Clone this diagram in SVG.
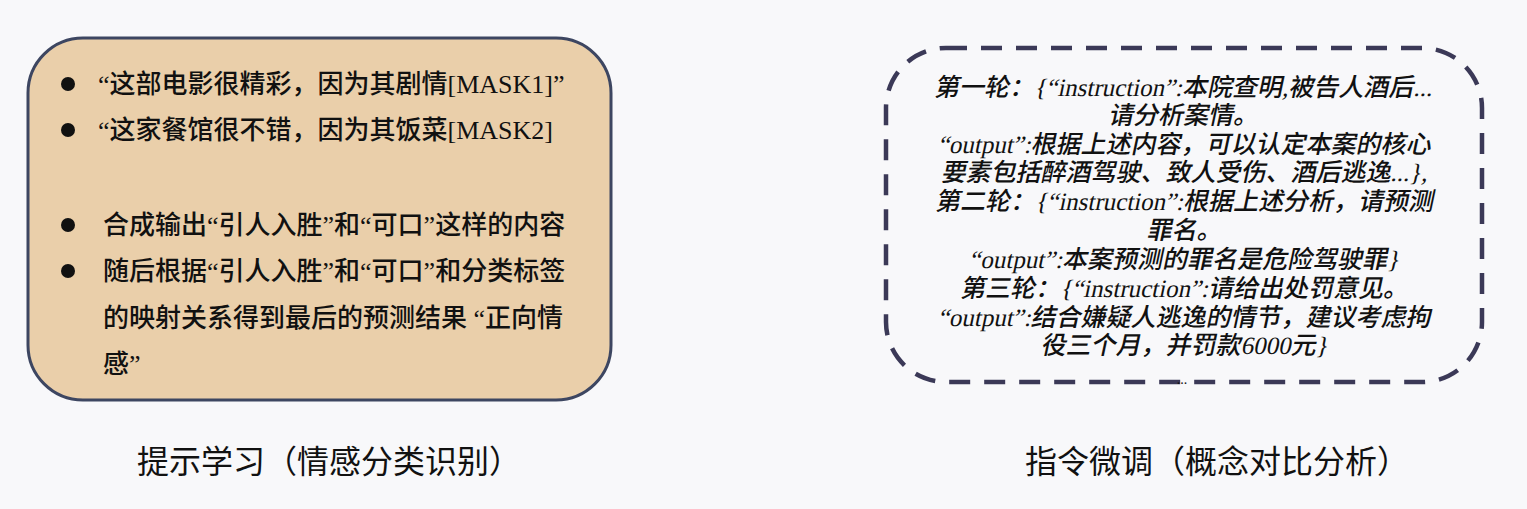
<svg xmlns="http://www.w3.org/2000/svg" width="1527" height="509" viewBox="0 0 1527 509">
<style>
.bg{fill:#f8f8fa}
.lbox{fill:#eacfaa;stroke:#3d4661;stroke-width:3}
.rbox{fill:none;stroke:#3b3957;stroke-width:4.5;stroke-dasharray:21 14}
.lt{font-family:"Liberation Serif","Noto Sans CJK SC",sans-serif;font-size:26px;font-weight:500;fill:#111}
.rt{font-family:"Liberation Serif","Noto Sans CJK SC",serif;font-size:25px;font-weight:500;fill:#111;text-anchor:middle}
.cap{font-family:"Noto Sans CJK SC",sans-serif;font-size:32px;font-weight:400;fill:#111}
.dot{fill:#111}
</style>
<rect class="bg" x="0" y="0" width="1527" height="509"/>
<g id="prompt-box">
<rect class="lbox" x="28" y="38" width="583" height="362" rx="55" ry="55"/>
<circle class="dot" cx="68" cy="84" r="7"/>
<circle class="dot" cx="68" cy="130" r="7"/>
<circle class="dot" cx="68" cy="225" r="7"/>
<circle class="dot" cx="68" cy="271" r="7"/>
<text class="lt" x="98" y="93">“这部电影很精彩，因为其剧情[MASK1]”</text>
<text class="lt" x="98" y="139">“这家餐馆很不错，因为其饭菜[MASK2]</text>
<text class="lt" x="103" y="234">合成输出“引人入胜”和“可口”这样的内容</text>
<text class="lt" x="103" y="280">随后根据“引人入胜”和“可口”和分类标签</text>
<text class="lt" x="103" y="327">的映射关系得到最后的预测结果 “正向情</text>
<text class="lt" x="103" y="373">感”</text>
</g>
<g id="instruction-box">
<rect class="rbox" x="886" y="48" width="596" height="334" rx="60" ry="60"/>
<text class="rt" transform="translate(1183,96) skewX(-12)">第一轮：{“instruction”:本院查明,被告人酒后...</text>
<text class="rt" transform="translate(1183,124) skewX(-12)">请分析案情。</text>
<text class="rt" transform="translate(1184,153) skewX(-12)">“output”:根据上述内容，可以认定本案的核心</text>
<text class="rt" transform="translate(1184,181) skewX(-12)">要素包括醉酒驾驶、致人受伤、酒后逃逸...},</text>
<text class="rt" transform="translate(1184,210) skewX(-12)">第二轮：{“instruction”:根据上述分析，请预测</text>
<text class="rt" transform="translate(1184,239) skewX(-12)">罪名。</text>
<text class="rt" transform="translate(1184,268) skewX(-12)">“output”:本案预测的罪名是危险驾驶罪}</text>
<text class="rt" transform="translate(1184,297) skewX(-12)">第三轮：{“instruction”:请给出处罚意见。</text>
<text class="rt" transform="translate(1184,326) skewX(-12)">“output”:结合嫌疑人逃逸的情节，建议考虑拘</text>
<text class="rt" transform="translate(1184,354) skewX(-12)">役三个月，并罚款6000元}</text>
<text class="rt" x="1182" y="384" style="font-size:14px">...</text>
</g>
<g id="captions">
<text class="cap" x="137" y="473">提示学习（情感分类识别）</text>
<text class="cap" x="1025" y="473">指令微调（概念对比分析）</text>
</g>
<g id="connectors"></g>
</svg>
